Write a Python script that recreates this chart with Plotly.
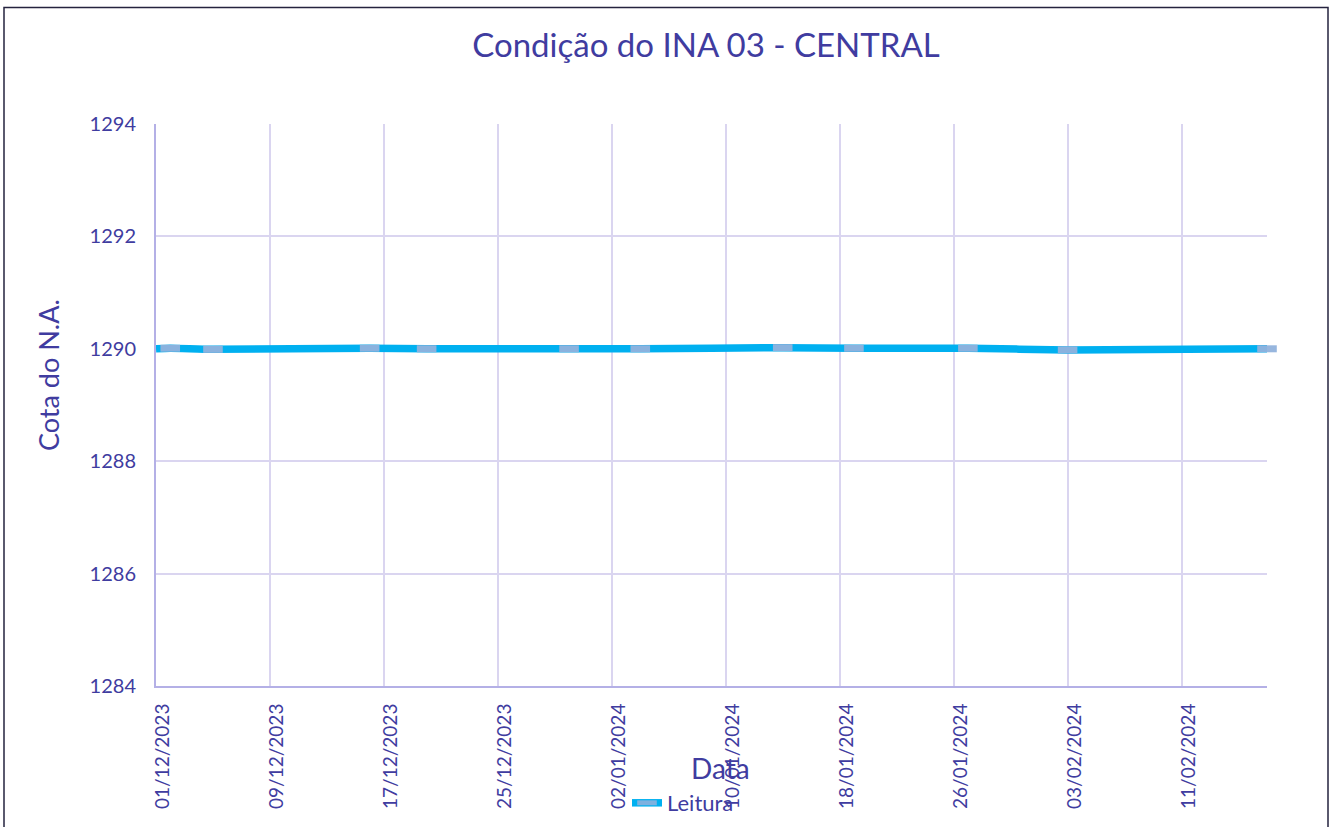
import plotly.graph_objects as go

# Leituras do nível d'água (INA 03 - CENTRAL)
datas = ["2023-12-01", "2023-12-02", "2023-12-05", "2023-12-16", "2023-12-20",
         "2023-12-30", "2024-01-04", "2024-01-14", "2024-01-19", "2024-01-27",
         "2024-02-03", "2024-02-17"]
cotas = [1290.00, 1290.01, 1289.99, 1290.01, 1290.00,
         1290.00, 1290.00, 1290.02, 1290.01, 1290.01,
         1289.98, 1290.00]
# primeira leitura sem marcador
marcador_visivel = [0, 1, 1, 1, 1, 1, 1, 1, 1, 1, 1, 1]

y_ticks = [1284, 1286, 1288, 1290, 1292, 1294]
x_inicio, x_fim = "2023-12-01", "2024-02-17"

TXT = "#403CA0"
FONT = "Lato"
GRID = "#DAD5F0"
AXIS = "#B4B0E6"

W, H = 1335, 827
ML, MR, MT, MB = 156, 68, 124, 141
PW, PH = W - ML - MR, H - MT - MB


def px_x(p):
    return (p - ML) / PW


def px_y(p):
    return (H - MB - p) / PH


fig = go.Figure()
fig.add_trace(go.Scatter(
    x=datas, y=cotas, name="Leitura", mode="lines+markers",
    line=dict(color="#00B0F0", width=7.5, shape="spline", smoothing=0.6),
    marker=dict(symbol="line-ew", size=14, opacity=marcador_visivel,
                line=dict(width=7, color="rgba(145,178,220,0.95)")),
    cliponaxis=False,
))

fig.update_layout(
    width=W, height=H,
    margin=dict(l=ML, r=MR, t=MT, b=MB, autoexpand=False),
    paper_bgcolor="white", plot_bgcolor="white",
    font=dict(family=FONT, color=TXT),
    title=dict(text="Condição do INA 03 - CENTRAL", x=px_x(706), xref="paper",
               xanchor="center", y=1 - 45 / H, yanchor="middle",
               font=dict(size=33, color=TXT, family=FONT)),
    showlegend=True,
    legend=dict(orientation="h", xref="container", yref="container",
                x=627 / W, xanchor="left",
                y=1 - 803 / H, yanchor="middle", font=dict(size=22, color=TXT),
                bgcolor="rgba(0,0,0,0)"),
    xaxis=dict(
        type="date", range=[x_inicio, x_fim], automargin=False,
        tick0=x_inicio, dtick=8 * 86400000, tickformat="%d/%m/%Y",
        tickangle=-90, tickfont=dict(size=19, color=TXT, family=FONT),
        showgrid=True, gridcolor=GRID, gridwidth=1.5,
        showline=True, linecolor=AXIS, linewidth=2,
        zeroline=False, ticks="", ticklabelstandoff=8, ticklabelshift=7,
    ),
    yaxis=dict(
        range=[y_ticks[0], y_ticks[-1]], tickvals=y_ticks, automargin=False,
        tickfont=dict(size=20, color=TXT, family=FONT),
        showgrid=True, gridcolor=GRID, gridwidth=1.5,
        showline=True, linecolor=AXIS, linewidth=2,
        zeroline=False, ticks="", ticklabelstandoff=14,
    ),
)

# títulos dos eixos
fig.add_annotation(text="Cota do N.A.", xref="paper", yref="paper",
                   x=px_x(48), y=px_y(375), textangle=-90, showarrow=False,
                   xanchor="center", yanchor="middle",
                   font=dict(size=27, color=TXT, family=FONT))
fig.add_annotation(text="Data", xref="paper", yref="paper",
                   x=px_x(720), y=px_y(768), showarrow=False,
                   xanchor="center", yanchor="middle",
                   font=dict(size=28, color=TXT, family=FONT))

# moldura do gráfico
fig.add_shape(type="rect", xref="paper", yref="paper",
              x0=px_x(4), x1=px_x(1328), y0=px_y(840), y1=px_y(7.5),
              line=dict(color="#25233F", width=1.5), layer="below")

fig.write_html("out.html")
